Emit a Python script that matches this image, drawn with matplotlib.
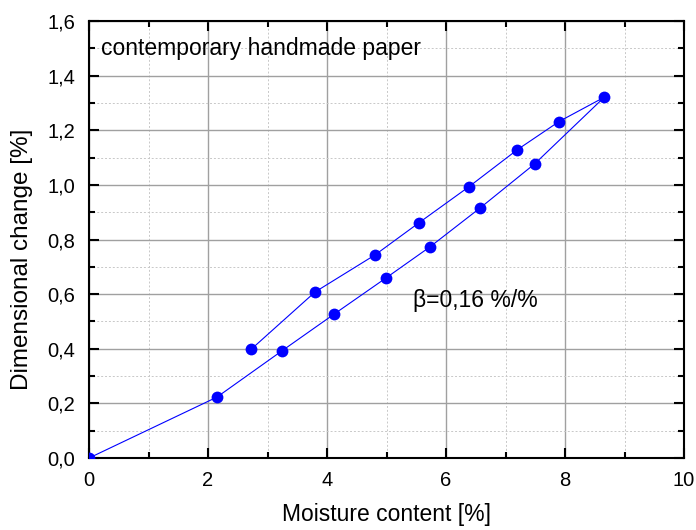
import matplotlib
matplotlib.use("Agg")
import matplotlib.pyplot as plt
from matplotlib.ticker import MultipleLocator, FuncFormatter

plt.rcParams['font.family'] = ['Liberation Sans', 'DejaVu Sans']

# sorption cycle: up along the lower branch, back down along the upper one
moisture = [0.0, 2.15, 3.24, 4.12, 4.99, 5.73, 6.57, 7.49, 8.66,
            7.90, 7.20, 6.39, 5.55, 4.81, 3.80, 2.73]
dim_change = [0.0, 0.223, 0.392, 0.527, 0.659, 0.773, 0.915, 1.077, 1.321,
              1.232, 1.129, 0.994, 0.862, 0.744, 0.608, 0.399]

fig = plt.figure(figsize=(6.96, 5.30), dpi=100)
ax = fig.add_axes([0.1279, 0.1358, 0.8549, 0.8246])

ax.plot(moisture, dim_change, color='#0000ff', lw=0.8, marker='o',
        markersize=8.5, markeredgewidth=0, zorder=3)

ax.set_xlim(0, 10)
ax.set_ylim(0, 1.6)
ax.xaxis.set_major_locator(MultipleLocator(2))
ax.xaxis.set_minor_locator(MultipleLocator(1))
ax.yaxis.set_major_locator(MultipleLocator(0.2))
ax.yaxis.set_minor_locator(MultipleLocator(0.1))
ax.xaxis.set_major_formatter(FuncFormatter(lambda v, p: f"{v:.0f}"))
ax.yaxis.set_major_formatter(FuncFormatter(lambda v, p: f"{v:.1f}".replace('.', ',')))

ax.grid(which='major', color='#a0a0a0', lw=1.0, ls='-')
ax.grid(which='minor', color='#c8c8c8', lw=0.7, ls=(0, (2, 2)))
ax.set_axisbelow(True)

for s in ax.spines.values():
    s.set_linewidth(1.5)
ax.tick_params(which='both', direction='in', top=True, right=True,
               labelsize=14.5, width=1.5)
ax.tick_params(axis='x', pad=9)
ax.tick_params(axis='y', pad=10)
ax.tick_params(which='major', length=7)
ax.tick_params(which='minor', length=4)

ax.set_xlabel("Moisture content [%]", fontsize=16.5, labelpad=10)
ax.set_ylabel("Dimensional change [%]", fontsize=17.5)
ax.yaxis.set_label_coords(-0.094, 0.455)

ax.text(0.2, 1.5, "contemporary handmade paper", fontsize=16.5, va='center', ha='left')
ax.text(5.45, 0.575, "β=0,16 %/%", fontsize=16.5, va='center', ha='left')

fig.savefig("out.png", dpi=100)
